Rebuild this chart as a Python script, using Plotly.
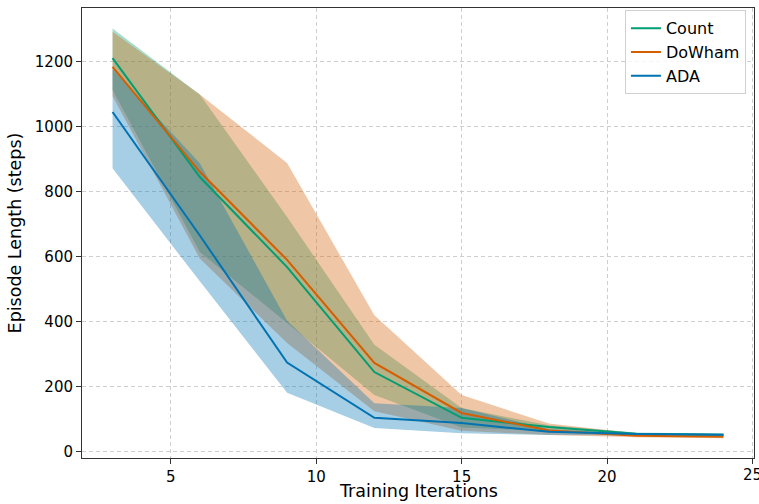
import plotly.graph_objects as go

iters = [3, 6, 9, 12, 15, 18, 21, 24]

count_mean = [1212, 846, 569, 246, 105, 77, 56, 53]
count_upper = [1303, 1100, 723, 330, 135, 82, 60, 56]
count_lower = [1114, 615, 397, 175, 75, 65, 52, 50]

dowham_mean = [1185, 862, 591, 274, 120, 66, 50, 47]
dowham_upper = [1293, 1100, 889, 421, 175, 88, 58, 50]
dowham_lower = [1095, 595, 335, 125, 65, 52, 45, 42]

ada_mean = [1046, 666, 275, 105, 89, 62, 55, 53]
ada_upper = [1178, 888, 404, 150, 135, 70, 58, 56]
ada_lower = [873, 525, 182, 74, 58, 52, 50, 49]

x_ticks = [5, 10, 15, 20, 25]
y_ticks = [0, 200, 400, 600, 800, 1000, 1200]

series = [
    ("Count", count_mean, count_upper, count_lower, "#029e73", "rgba(2,158,115,0.35)"),
    ("DoWham", dowham_mean, dowham_upper, dowham_lower, "#d55e00", "rgba(213,94,0,0.35)"),
    ("ADA", ada_mean, ada_upper, ada_lower, "#0173b2", "rgba(1,115,178,0.35)"),
]

fig = go.Figure()
for name, m, up, lo, col, fcol in series:
    fig.add_trace(go.Scatter(
        x=iters + iters[::-1], y=up + lo[::-1], fill="toself", fillcolor=fcol,
        line=dict(width=0), mode="lines", showlegend=False, hoverinfo="skip"))
for name, m, up, lo, col, fcol in series:
    fig.add_trace(go.Scatter(x=iters, y=m, mode="lines", name=name,
                             line=dict(color=col, width=2)))

font = "DejaVu Sans, Arial, sans-serif"
fig.update_layout(
    width=759, height=504,
    margin=dict(l=82, r=5, t=8, b=46),
    paper_bgcolor="white", plot_bgcolor="white",
    font=dict(family=font, size=15, color="black"),
    legend=dict(x=0.988, y=0.995, xanchor="right", yanchor="top",
                bgcolor="rgba(255,255,255,0.8)", bordercolor="#d0d0d0", borderwidth=1,
                font=dict(size=16), tracegroupgap=0),
    showlegend=True,
)
axis_common = dict(showline=True, mirror=True, linecolor="#333", linewidth=1,
                   ticks="outside", ticklen=5, tickcolor="#333",
                   showgrid=True, gridcolor="#cfcfcf", griddash="4px,3px", gridwidth=1,
                   zeroline=False, tickfont=dict(size=15), automargin=False)
fig.update_xaxes(range=[1.95, 25.05], tickvals=x_ticks,
                 ticktext=[str(v) if v != 25 else " " for v in x_ticks],
                 **axis_common)
fig.update_yaxes(range=[-18.5, 1366], tickvals=y_ticks,
                 title=dict(text="Episode Length (steps)", font=dict(size=17.5), standoff=8),
                 **axis_common)

# the right-most tick label sits at the edge of the image and is clipped there
fig.add_annotation(x=x_ticks[-1], y=0, xref="x", yref="paper", text=str(x_ticks[-1]),
                   showarrow=False, yanchor="top", xanchor="center", yshift=-6,
                   font=dict(size=15, family=font, color="black"))
# x-axis title
fig.add_annotation(x=0.5, y=0, xref="paper", yref="paper", text="Training Iterations",
                   showarrow=False, yanchor="middle", xanchor="center", yshift=-33,
                   font=dict(size=17.5, family=font, color="black"))

fig.write_html("out.html")
